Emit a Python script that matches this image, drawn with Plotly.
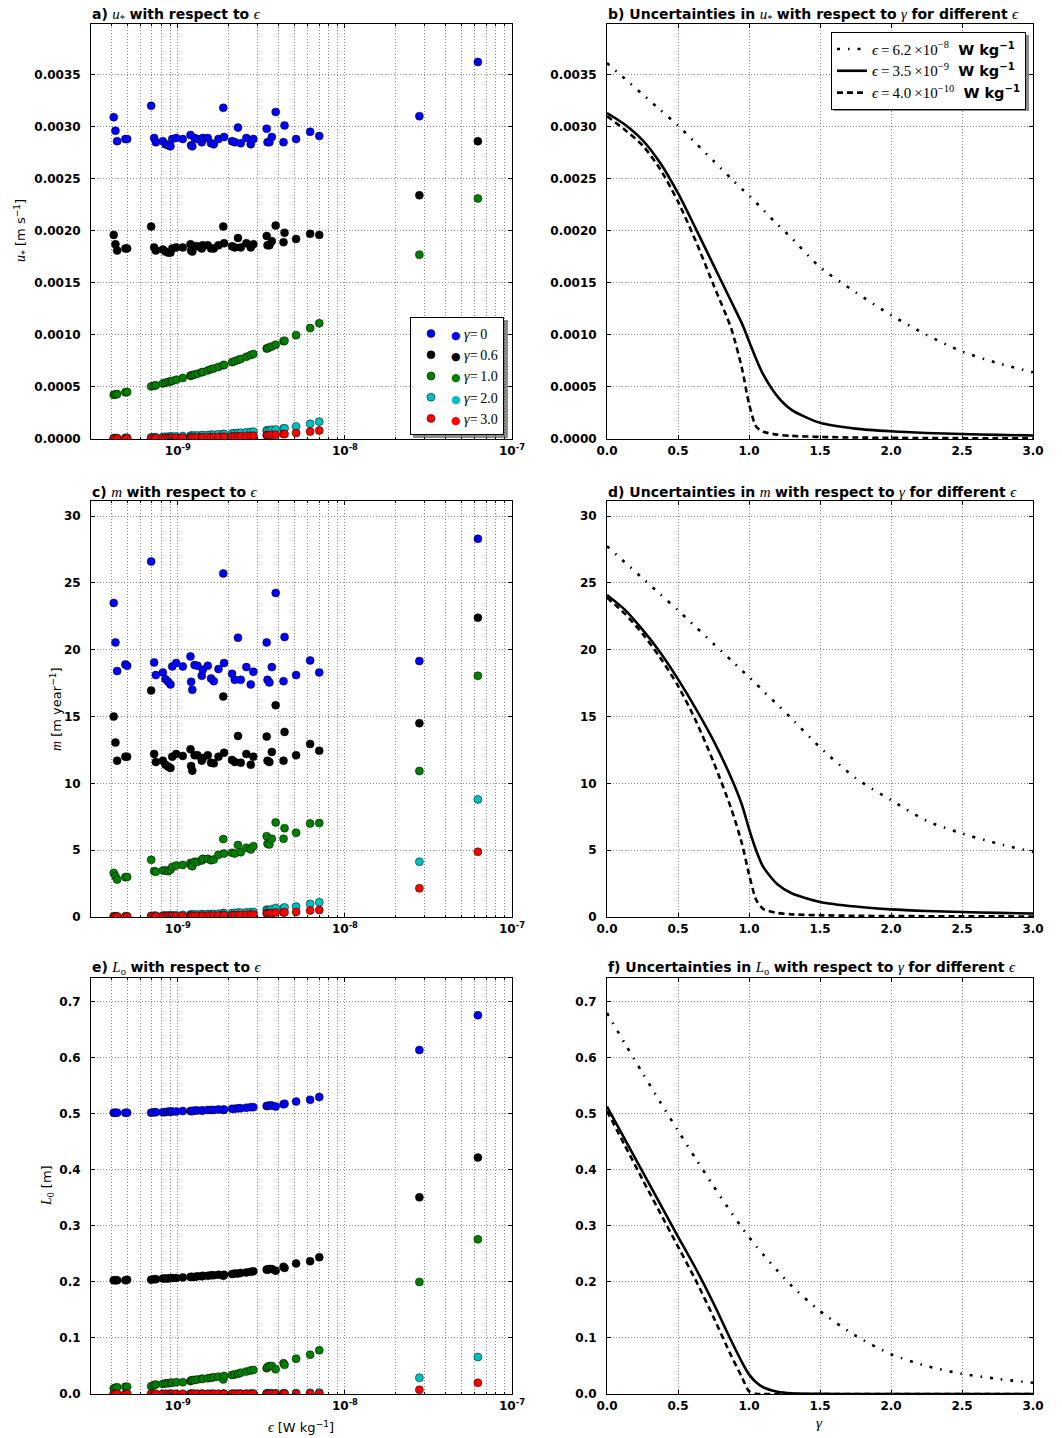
import math
import plotly.graph_objects as go

# ---------------- field observations (dissipation rate and derived quantities) ----------------
eps_obs = [4.13e-10, 4.23e-10, 4.33e-10, 4.85e-10, 4.97e-10, 6.92e-10, 7.21e-10, 7.38e-10, 8.13e-10, 8.43e-10,
           8.75e-10, 9.03e-10, 9.25e-10, 9.77e-10, 1.07e-9, 1.19e-9, 1.20e-9, 1.22e-9, 1.26e-9, 1.31e-9,
           1.39e-9, 1.41e-9, 1.51e-9, 1.58e-9, 1.64e-9, 1.75e-9, 1.87e-9, 1.89e-9, 2.11e-9, 2.19e-9,
           2.29e-9, 2.38e-9, 2.57e-9, 2.73e-9, 2.83e-9, 3.40e-9, 3.44e-9, 3.53e-9, 3.65e-9, 3.85e-9,
           4.29e-9, 4.35e-9, 5.10e-9, 6.19e-9, 7.02e-9, 2.79e-8, 6.25e-8]

gamma_labels = ["0", "0.6", "1.0", "2.0", "3.0"]

# friction velocity u* [m s^-1]
ustar_g0 = [0.00309, 0.00296, 0.00286, 0.00288, 0.00288, 0.00320, 0.00289, 0.00285, 0.00286, 0.00283,
            0.00282, 0.00281, 0.00288, 0.00289, 0.00288, 0.00292, 0.00282, 0.00281, 0.00289, 0.00288,
            0.00285, 0.00289, 0.00289, 0.00284, 0.00283, 0.00288, 0.00318, 0.00290, 0.00286, 0.00285,
            0.00299, 0.00284, 0.00289, 0.00283, 0.00288, 0.00298, 0.00285, 0.00285, 0.00290, 0.00314,
            0.00285, 0.00301, 0.00288, 0.00295, 0.00291, 0.00310, 0.00362]
ustar_g06 = [0.00196, 0.00187, 0.00181, 0.00183, 0.00183, 0.00204, 0.00184, 0.00181, 0.00182, 0.00180,
             0.00179, 0.00179, 0.00183, 0.00184, 0.00184, 0.00187, 0.00181, 0.00180, 0.00185, 0.00185,
             0.00183, 0.00186, 0.00186, 0.00183, 0.00183, 0.00186, 0.00204, 0.00188, 0.00185, 0.00184,
             0.00193, 0.00184, 0.00188, 0.00184, 0.00187, 0.00195, 0.00186, 0.00186, 0.00190, 0.00205,
             0.00189, 0.00198, 0.00192, 0.00197, 0.00196, 0.00234, 0.00286]
ustar_g10 = [0.000424, 0.000427, 0.000431, 0.000448, 0.000451, 0.000505, 0.000512, 0.000516, 0.000534, 0.000540,
             0.000547, 0.000553, 0.000558, 0.000568, 0.000586, 0.000607, 0.000610, 0.000613, 0.000620, 0.000627,
             0.000641, 0.000643, 0.000658, 0.000670, 0.000678, 0.000692, 0.000709, 0.000711, 0.000738, 0.000747,
             0.000759, 0.000769, 0.000790, 0.000806, 0.000816, 0.000869, 0.000871, 0.000880, 0.000889, 0.000906,
             0.000939, 0.000944, 0.000997, 0.001065, 0.001111, 0.00177, 0.00231]
ustar_g20 = [0.000009, 0.000009, 0.000010, 0.000011, 0.000012, 0.000016, 0.000017, 0.000018, 0.000020, 0.000021,
             0.000022, 0.000023, 0.000024, 0.000025, 0.000028, 0.000031, 0.000031, 0.000032, 0.000033, 0.000034,
             0.000036, 0.000037, 0.000039, 0.000041, 0.000042, 0.000045, 0.000048, 0.000048, 0.000053, 0.000055,
             0.000058, 0.000060, 0.000064, 0.000067, 0.000070, 0.000082, 0.000083, 0.000085, 0.000088, 0.000092,
             0.000102, 0.000103, 0.000121, 0.000146, 0.000166, 0.00066, 0.00113]
ustar_g30 = [0.000003, 0.000003, 0.000003, 0.000004, 0.000004, 0.000006, 0.000006, 0.000007, 0.000007, 0.000008,
             0.000008, 0.000009, 0.000009, 0.000010, 0.000011, 0.000012, 0.000012, 0.000013, 0.000013, 0.000014,
             0.000015, 0.000015, 0.000016, 0.000017, 0.000018, 0.000019, 0.000020, 0.000021, 0.000023, 0.000024,
             0.000025, 0.000026, 0.000028, 0.000030, 0.000031, 0.000037, 0.000038, 0.000039, 0.000040, 0.000042,
             0.000047, 0.000048, 0.000057, 0.000071, 0.000081, 0.00034, 0.00063]

# melt rate m [m year^-1]
m_g0 = [23.5, 20.55, 18.4, 18.9, 18.8, 26.6, 19.05, 18.1, 18.3, 17.8,
        17.6, 17.4, 18.75, 19.0, 18.75, 19.5, 17.6, 17.0, 18.85, 18.8,
        18.05, 18.5, 18.8, 17.85, 17.65, 18.55, 25.7, 19.0, 18.2, 17.75,
        20.9, 17.75, 18.7, 17.4, 18.35, 20.55, 17.75, 17.55, 18.7, 24.25,
        17.65, 20.95, 18.1, 19.2, 18.3, 19.15, 28.3]
m_g06 = [15.0, 13.05, 11.7, 12.0, 12.0, 16.95, 12.2, 11.6, 11.7, 11.4,
         11.25, 11.15, 12.0, 12.2, 12.05, 12.55, 11.3, 10.95, 12.1, 12.1,
         11.7, 11.9, 12.1, 11.55, 11.5, 12.0, 16.5, 12.3, 11.75, 11.6,
         13.55, 11.55, 12.2, 11.4, 12.0, 13.5, 11.7, 11.6, 12.35, 15.85,
         11.7, 13.85, 12.1, 12.95, 12.45, 14.5, 22.4]
m_g10 = [3.3, 3.05, 2.8, 2.98, 3.0, 4.28, 3.43, 3.38, 3.48, 3.48,
         3.43, 3.53, 3.75, 3.85, 3.9, 4.05, 3.88, 3.8, 4.13, 4.13,
         4.23, 4.35, 4.35, 4.25, 4.3, 4.65, 5.83, 4.75, 4.8, 4.75,
         5.38, 4.85, 5.18, 5.05, 5.3, 6.05, 5.48, 5.43, 5.85, 7.08,
         5.85, 6.65, 6.3, 7.0, 7.03, 10.93, 18.05]
m_g20 = [0.05, 0.05, 0.05, 0.06, 0.06, 0.09, 0.10, 0.10, 0.11, 0.12,
         0.12, 0.12, 0.13, 0.14, 0.16, 0.18, 0.17, 0.17, 0.19, 0.19,
         0.20, 0.21, 0.22, 0.22, 0.23, 0.25, 0.30, 0.27, 0.29, 0.30,
         0.33, 0.32, 0.35, 0.35, 0.38, 0.55, 0.52, 0.52, 0.58, 0.68,
         0.66, 0.72, 0.78, 0.98, 1.10, 4.13, 8.8]
m_g30 = [0.02, 0.02, 0.02, 0.02, 0.02, 0.04, 0.04, 0.04, 0.05, 0.05,
         0.05, 0.05, 0.05, 0.06, 0.07, 0.08, 0.07, 0.07, 0.08, 0.08,
         0.09, 0.09, 0.10, 0.10, 0.10, 0.11, 0.13, 0.12, 0.13, 0.14,
         0.15, 0.15, 0.17, 0.18, 0.19, 0.27, 0.27, 0.28, 0.29, 0.33,
         0.33, 0.35, 0.38, 0.48, 0.52, 2.15, 4.88]

# length scale L0 [m]
L0_g0 = [0.502, 0.502, 0.502, 0.502, 0.502, 0.502, 0.503, 0.503, 0.503, 0.503,
         0.504, 0.504, 0.504, 0.504, 0.505, 0.505, 0.505, 0.505, 0.506, 0.506,
         0.506, 0.506, 0.507, 0.507, 0.507, 0.508, 0.507, 0.508, 0.509, 0.509,
         0.510, 0.510, 0.511, 0.512, 0.512, 0.514, 0.514, 0.515, 0.515, 0.513,
         0.517, 0.518, 0.522, 0.525, 0.530, 0.614, 0.676]
L0_g06 = [0.203, 0.203, 0.203, 0.203, 0.204, 0.204, 0.205, 0.205, 0.206, 0.206,
          0.206, 0.207, 0.207, 0.207, 0.208, 0.209, 0.209, 0.209, 0.209, 0.210,
          0.210, 0.211, 0.211, 0.212, 0.212, 0.213, 0.211, 0.213, 0.214, 0.215,
          0.215, 0.216, 0.217, 0.218, 0.219, 0.222, 0.222, 0.223, 0.223, 0.220,
          0.227, 0.225, 0.233, 0.237, 0.244, 0.351, 0.422]
L0_g10 = [0.010, 0.011, 0.012, 0.013, 0.013, 0.014, 0.016, 0.017, 0.018, 0.019,
          0.019, 0.020, 0.020, 0.021, 0.021, 0.023, 0.024, 0.025, 0.025, 0.026,
          0.027, 0.027, 0.028, 0.029, 0.030, 0.031, 0.026, 0.032, 0.034, 0.035,
          0.036, 0.038, 0.040, 0.042, 0.043, 0.046, 0.048, 0.050, 0.050, 0.044,
          0.055, 0.052, 0.063, 0.070, 0.078, 0.200, 0.276]
L0_g20 = [0.0001, 0.0001, 0.0001, 0.0001, 0.0001, 0.0002, 0.0002, 0.0002, 0.0002, 0.0002,
          0.0002, 0.0002, 0.0003, 0.0003, 0.0003, 0.0003, 0.0003, 0.0003, 0.0004, 0.0004,
          0.0004, 0.0004, 0.0004, 0.0005, 0.0005, 0.0005, 0.0005, 0.0006, 0.0006, 0.0006,
          0.0007, 0.0007, 0.0008, 0.0008, 0.0009, 0.0011, 0.0011, 0.0011, 0.0012, 0.0012,
          0.0014, 0.0014, 0.0017, 0.0022, 0.0026, 0.029, 0.066]
L0_g30 = [0.0, 0.0, 0.0, 0.0, 0.0, 0.0, 0.0, 0.0, 0.0, 0.0,
          0.0, 0.0, 0.0, 0.0, 0.0, 0.0001, 0.0001, 0.0001, 0.0001, 0.0001,
          0.0001, 0.0001, 0.0001, 0.0001, 0.0001, 0.0001, 0.0001, 0.0001, 0.0001, 0.0001,
          0.0001, 0.0001, 0.0002, 0.0002, 0.0002, 0.0002, 0.0002, 0.0002, 0.0002, 0.0003,
          0.0003, 0.0003, 0.0004, 0.0005, 0.0006, 0.0075, 0.020]

# ---------------- sensitivity to gamma for three dissipation rates ----------------
gamma_curve = [0, 0.125, 0.25, 0.375, 0.5, 0.625, 0.75, 0.875, 0.95, 1.0, 1.05,
               1.1, 1.2, 1.3, 1.5, 1.75, 2.0, 2.25, 2.5, 2.75, 3.0]
eps_curve_labels = [("6.2", "−8"), ("3.5", "−9"), ("4.0", "−10")]

ustar_eps_hi = [0.00361, 0.00346, 0.00331, 0.00316, 0.00301, 0.00284, 0.00267, 0.00250, 0.00240, 0.00234, 0.00227,
                0.00220, 0.00206, 0.00193, 0.00165, 0.00141, 0.00119, 0.00100, 0.00084, 0.00073, 0.00064]
ustar_eps_mid = [0.00313, 0.00302, 0.00287, 0.00265, 0.00236, 0.00202, 0.00167, 0.00132, 0.00111, 0.00094, 0.00077,
                 0.00062, 0.00041, 0.00028, 0.000155, 0.000100, 0.000074, 0.000058, 0.000048, 0.000040, 0.000034]
ustar_eps_lo = [0.00310, 0.00297, 0.00282, 0.00259, 0.00228, 0.00190, 0.00148, 0.00106, 0.00068, 0.00034, 0.00012,
                0.00007, 0.000042, 0.000030, 0.000020, 0.000014, 0.000011, 0.000009, 0.000008, 0.000007, 0.000006]

m_eps_hi = [27.75, 26.55, 25.35, 24.15, 22.95, 21.7, 20.45, 19.2, 18.45, 17.95, 17.45,
            16.9, 15.9, 14.85, 12.7, 10.4, 8.75, 7.2, 6.25, 5.5, 4.87]
m_eps_mid = [24.1, 23.0, 21.5, 19.8, 17.8, 15.6, 13.2, 10.4, 8.4, 6.6, 5.0,
             3.75, 2.45, 1.78, 1.13, 0.78, 0.57, 0.45, 0.37, 0.31, 0.26]
m_eps_lo = [23.9, 22.7, 21.2, 19.4, 17.3, 14.7, 11.6, 8.1, 5.5, 3.2, 1.3,
            0.6, 0.3, 0.2, 0.13, 0.09, 0.07, 0.06, 0.05, 0.045, 0.04]

L0_eps_hi = [0.680, 0.626, 0.573, 0.521, 0.470, 0.420, 0.371, 0.324, 0.297, 0.280, 0.264,
             0.249, 0.220, 0.193, 0.148, 0.104, 0.071, 0.050, 0.036, 0.027, 0.020]
L0_eps_mid = [0.513, 0.455, 0.397, 0.339, 0.281, 0.224, 0.162, 0.095, 0.057, 0.035, 0.021,
              0.012, 0.004, 0.0012, 0.0002, 0.0001, 0.0, 0.0, 0.0, 0.0, 0.0]
L0_eps_lo = [0.505, 0.444, 0.383, 0.323, 0.263, 0.203, 0.137, 0.068, 0.030, 0.005, 0.0005,
             0.0, 0.0, 0.0, 0.0, 0.0, 0.0, 0.0, 0.0, 0.0, 0.0]

# ---------------- styling ----------------
W, H = 1062, 1438
COLS = [(91, 512), (607, 1033)]          # panel edges in px
ROWS = [(24, 439), (501, 917), (978, 1394)]
MARKER_COLORS = ["#0000ff", "#000000", "#008000", "#00bfbf", "#ff0000"]
LINE_DASHES = ["3px,8px,1.5px,8px", "solid", "6px,4px"]
SERIF = "Liberation Serif"
SANS = "DejaVu Sans"
GRID = dict(showgrid=True, gridcolor="#8a8a8a", griddash="1px,2px", gridwidth=1)
LEGEND_A_BOX = (410, 317, 505, 435)      # left, top, right, bottom in px
LEGEND_B_BOX = (831, 32, 1026, 108)
SHADOW_OFFSET = 3


def math_txt(s, size=15):
    return f'<span style="font-family:{SERIF};font-size:{size}px;">{s}</span>'


def px_x(x):
    return x / W


def px_y(y):
    return 1 - y / H


def ax_name(kind, k):
    return kind if k == 1 else f"{kind}{k}"


fig = go.Figure()

# scatter panels (left column)
left_sets = [
    [ustar_g0, ustar_g06, ustar_g10, ustar_g20, ustar_g30],
    [m_g0, m_g06, m_g10, m_g20, m_g30],
    [L0_g0, L0_g06, L0_g10, L0_g20, L0_g30],
]
for r, sets in enumerate(left_sets):
    k = 2 * r + 1
    for j, ys in enumerate(sets):
        name = (f'<span style="font-family:{SANS};font-size:11px;color:{MARKER_COLORS[j]};">●</span>'
                f'\u00a0<i>γ</i>=\u2009{gamma_labels[j]}')
        fig.add_trace(go.Scatter(
            x=eps_obs, y=ys, mode="markers", name=name,
            marker=dict(size=8, color=MARKER_COLORS[j], line=dict(color="black", width=0.5)),
            xaxis=ax_name("x", k), yaxis=ax_name("y", k),
            showlegend=(r == 0), legend="legend",
        ))

# gamma-sensitivity panels (right column)
right_sets = [
    [ustar_eps_hi, ustar_eps_mid, ustar_eps_lo],
    [m_eps_hi, m_eps_mid, m_eps_lo],
    [L0_eps_hi, L0_eps_mid, L0_eps_lo],
]
for r, sets in enumerate(right_sets):
    k = 2 * r + 2
    for j, ys in enumerate(sets):
        mant, ex = eps_curve_labels[j]
        name = (math_txt(f"<i>ϵ</i>\u2009=\u2009{mant}\u2009×10<sup>{ex}</sup>", 15)
                + f"\u00a0\u00a0<b>W kg<sup>−1</sup></b>")
        fig.add_trace(go.Scatter(
            x=gamma_curve, y=ys, mode="lines", name=name,
            line=dict(color="black", width=2.6, dash=LINE_DASHES[j], shape="spline", smoothing=0.7),
            xaxis=ax_name("x", k), yaxis=ax_name("y", k),
            showlegend=(r == 0), legend="legend2",
        ))

tickfont = dict(family=SANS, size=12, color="black", weight="bold")
base_axis = dict(showline=True, linecolor="black", linewidth=1, mirror="ticks",
                 ticks="inside", ticklen=4, tickcolor="black", zeroline=False,
                 automargin=False, tickfont=tickfont, **GRID)

minor_log = [m * 10.0 ** e for e in (-10, -9, -8) for m in range(2, 10)]
minor_log = [v for v in minor_log if 3.0e-10 <= v <= 1e-7]

y_specs = [
    dict(range=[0, 0.003985], tickvals=[i * 0.0005 for i in range(8)], tickformat=".4f"),
    dict(range=[0, 31.13], tickvals=[0, 5, 10, 15, 20, 25, 30], tickformat="d"),
    dict(range=[0, 0.7425], tickvals=[i * 0.1 for i in range(8)], tickformat=".1f"),
]

layout_axes = {}
for r in range(3):
    for c in range(2):
        k = 2 * r + c + 1
        xd = [px_x(COLS[c][0]), px_x(COLS[c][1])]
        yd = [px_y(ROWS[r][1]), px_y(ROWS[r][0])]
        xa = dict(base_axis, domain=xd, anchor=ax_name("y", k), ticklabelstandoff=1)
        if c == 0:
            xa.update(type="log", range=[math.log10(3.02e-10), -7],
                      tickmode="array", tickvals=[1e-9, 1e-8, 1e-7],
                      ticktext=["10<sup>-9</sup>", "10<sup>-8</sup>", "10<sup>-7</sup>"],
                      minor=dict(tickmode="array", tickvals=minor_log, ticks="inside", ticklen=2,
                                 tickcolor="black", showgrid=True, gridcolor="#8a8a8a",
                                 griddash="1px,2px", gridwidth=1))
        else:
            xa.update(range=[0, 3], tickmode="array", tickvals=[0, 0.5, 1, 1.5, 2, 2.5, 3],
                      tickformat=".1f")
        ya = dict(base_axis, domain=yd, anchor=ax_name("x", k), tickmode="array",
                  ticklabelstandoff=7, **y_specs[r])
        layout_axes["xaxis" if k == 1 else f"xaxis{k}"] = xa
        layout_axes["yaxis" if k == 1 else f"yaxis{k}"] = ya

# panel titles
eps_m = math_txt("<i>ϵ</i>")
gam_m = math_txt("<i>γ</i>")
quantities = [math_txt("<i>u</i><sub>*</sub>"), math_txt("<i>m</i>"), math_txt("<i>L</i><sub>o</sub>")]
title_y = [15, 492, 968]
annotations = []
for r in range(3):
    q = quantities[r]
    left_title = f"<b>{'ace'[r]})</b> {q} <b>with respect to</b> {eps_m}"
    right_title = (f"<b>{'bdf'[r]}) Uncertainties in</b> {q} <b>with respect to</b> {gam_m} "
                   f"<b>for different</b> {eps_m}")
    for c, txt in enumerate([left_title, right_title]):
        annotations.append(dict(text=txt, xref="paper", yref="paper", x=px_x(COLS[c][0]) - 0.001,
                                y=px_y(title_y[r]), xanchor="left", yanchor="middle", showarrow=False,
                                font=dict(family=SANS, size=14, color="black")))

# axis labels
label_font = dict(family=SANS, size=13, color="black")
annotations += [
    dict(text=math_txt("<i>u</i><sub>*</sub>", 14) + " [m s<sup>−1</sup>]", x=px_x(21), y=px_y(231),
         textangle=-90),
    dict(text=math_txt("<i>m</i>", 14) + " [m year<sup>−1</sup>]", x=px_x(56), y=px_y(709), textangle=-90),
    dict(text=math_txt("<i>L</i><sub>0</sub>", 14) + " [m]", x=px_x(47), y=px_y(1186), textangle=-90),
    dict(text=math_txt("<i>ϵ</i>", 14) + " [W kg<sup>−1</sup>]", x=px_x(301), y=px_y(1427)),
    dict(text=math_txt("<i>γ</i>", 15), x=px_x(819), y=px_y(1423)),
]
for a in annotations[-5:]:
    a.update(xref="paper", yref="paper", xanchor="center", yanchor="middle", showarrow=False,
             font=label_font)

# drop shadows behind the two legend boxes
shapes = []
for (l, t, r_, b) in (LEGEND_A_BOX, LEGEND_B_BOX):
    shapes.append(dict(type="rect", xref="paper", yref="paper", layer="above",
                       x0=px_x(l + SHADOW_OFFSET), x1=px_x(r_ + SHADOW_OFFSET),
                       y0=px_y(b + SHADOW_OFFSET), y1=px_y(t + SHADOW_OFFSET),
                       fillcolor="rgba(0,0,0,0.45)", line=dict(width=0)))

fig.update_layout(
    width=W, height=H, margin=dict(l=0, r=0, t=0, b=0, pad=0, autoexpand=False),
    paper_bgcolor="white", plot_bgcolor="white",
    annotations=annotations, shapes=shapes,
    legend=dict(x=px_x(LEGEND_A_BOX[0]), y=px_y(LEGEND_A_BOX[1]), xanchor="left", yanchor="top",
                bgcolor="white", bordercolor="black", borderwidth=1,
                font=dict(family=SERIF, size=14, color="black"), itemwidth=30, tracegroupgap=0),
    legend2=dict(x=px_x(LEGEND_B_BOX[2]), y=px_y(LEGEND_B_BOX[1]), xanchor="right", yanchor="top",
                 bgcolor="white", bordercolor="black", borderwidth=1,
                 font=dict(family=SANS, size=14.5, color="black"), itemwidth=30, tracegroupgap=0),
    **layout_axes,
)

fig.write_html("out.html")
